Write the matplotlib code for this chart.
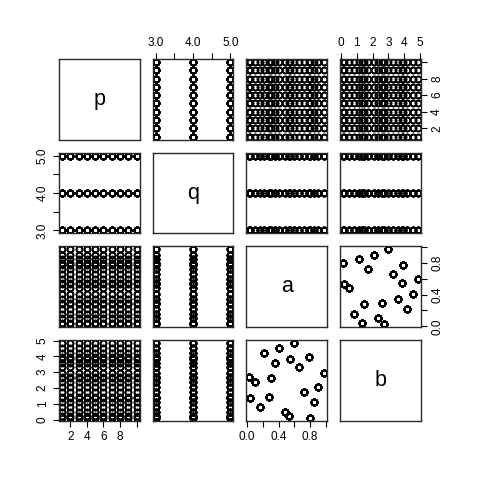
import itertools
import matplotlib
matplotlib.use("Agg")
import matplotlib.pyplot as plt
from matplotlib.ticker import FixedLocator, FixedFormatter

plt.rcParams['font.family'] = ['Liberation Sans', 'DejaVu Sans']

# variables of the data frame
p_vals = [1, 2, 3, 4, 5, 6, 7, 8, 9, 10]
q_vals = [3, 4, 5]
a_vals = [0.60, 0.41, 0.22, 0.78, 0.55, 0.35, 0.66, 0.975, 0.03, 0.10,
          0.30, 0.90, 0.725, 0.045, 0.28, 0.85, 0.16, 0.48, 0.53, 0.80]
b_vals = [4.85, 4.55, 4.21, 3.94, 3.85, 3.60, 3.32, 2.98, 2.70, 2.36,
          2.62, 2.06, 1.72, 1.36, 1.45, 1.13, 0.81, 0.51, 0.21, 0.13]

names = ['p', 'q', 'a', 'b']

rows = list(itertools.product(p_vals, q_vals, range(len(a_vals))))
data = {
    'p': [r[0] for r in rows],
    'q': [r[1] for r in rows],
    'a': [a_vals[r[2]] for r in rows],
    'b': [b_vals[r[2]] for r in rows],
}

ticks = {
    'p': ([2, 4, 6, 8, 10], ['2', '4', '6', '8', '']),
    'q': ([3.0, 3.5, 4.0, 4.5, 5.0], ['3.0', '', '4.0', '', '5.0']),
    'a': ([0.0, 0.2, 0.4, 0.6, 0.8, 1.0], ['0.0', '', '0.4', '', '0.8', '']),
    'b': ([0, 1, 2, 3, 4, 5], ['0', '1', '2', '3', '4', '5']),
}


def lims(v):
    lo, hi = min(v), max(v)
    pad = (hi - lo) * 0.04
    return lo - pad, hi + pad


W = 480.0
starts = [59, 152.7, 246.3, 340]
size = 80.6

fig = plt.figure(figsize=(4.8, 4.8), dpi=100)
n = len(names)
for i in range(n):
    for j in range(n):
        left = starts[j] / W
        bottom = 1 - (starts[i] + size) / W
        ax = fig.add_axes([left, bottom, size / W, size / W])
        xv, yv = names[j], names[i]
        ax.set_xlim(lims(data[xv]))
        ax.set_ylim(lims(data[yv]))
        for s in ax.spines.values():
            s.set_linewidth(1.0)
            s.set_color('#2a2a2a')
        if i == j:
            ax.text(0.5, 0.5, names[i], transform=ax.transAxes,
                    ha='center', va='center', fontsize=15.5)
        else:
            ax.plot(data[xv], data[yv], 'o', mfc='none', mec='black',
                    ms=4.3, mew=1.1, ls='none')
        ax.set_xticks([])
        ax.set_yticks([])
        tk = dict(length=4.5, width=0.8, labelsize=8.5, pad=3, color='black')
        if i == n - 1 and j % 2 == 0:
            ax.xaxis.set_major_locator(FixedLocator(ticks[xv][0]))
            ax.xaxis.set_major_formatter(FixedFormatter(ticks[xv][1]))
            ax.tick_params(axis='x', bottom=True, labelbottom=True, **tk)
        if i == 0 and j % 2 == 1:
            ax.xaxis.set_major_locator(FixedLocator(ticks[xv][0]))
            ax.xaxis.set_major_formatter(FixedFormatter(ticks[xv][1]))
            ax.tick_params(axis='x', top=True, labeltop=True, bottom=False, labelbottom=False, **tk)
        if j == 0 and i % 2 == 1:
            ax.yaxis.set_major_locator(FixedLocator(ticks[yv][0]))
            ax.yaxis.set_major_formatter(FixedFormatter(ticks[yv][1]))
            ax.tick_params(axis='y', left=True, labelleft=True, labelrotation=90, **tk)
            for t in ax.get_yticklabels():
                t.set_va('center')
        if j == n - 1 and i % 2 == 0:
            ax.yaxis.set_major_locator(FixedLocator(ticks[yv][0]))
            ax.yaxis.set_major_formatter(FixedFormatter(ticks[yv][1]))
            ax.tick_params(axis='y', right=True, labelright=True, left=False, labelleft=False,
                           labelrotation=90, **tk)
            for t in ax.get_yticklabels():
                t.set_va('center')

fig.savefig('out.png', dpi=100)
